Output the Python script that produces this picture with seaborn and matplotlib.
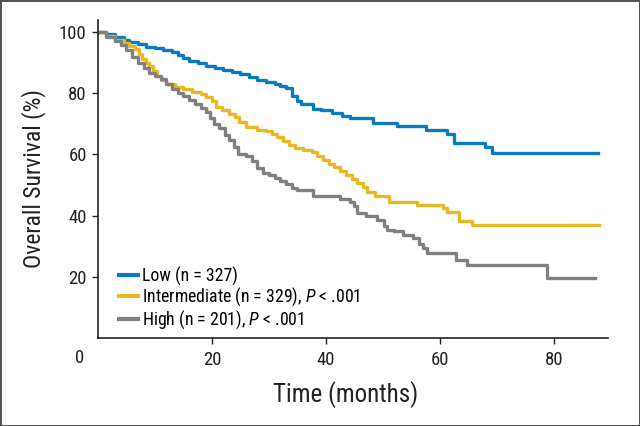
import numpy as np
import pandas as pd
from matplotlib import pyplot as plt
from matplotlib import font_manager
import seaborn as sb

'''
Kaplan-Meier overall survival by risk group
'''

# step points (time in months, survival in %)
low_time = [0, 1.5, 3, 4.5, 5.5, 7, 8.5, 10, 11.5, 13, 14, 15, 16, 17.5, 19, 20.5, 22, 23.5, 25, 26.5,
            28, 29.5, 31, 32, 33, 34, 35, 35.6, 37.7, 39.2, 41, 42.8, 44.2, 48.2, 52.4, 57.5, 61.2, 62.5,
            67.9, 69.1, 87.7]
low_surv = [100, 99.3, 98.3, 97.5, 96.7, 96, 95.2, 94.8, 94.2, 93.5, 92.6, 91.6, 90.6, 90, 89, 88.2, 87.8, 86.9, 86.2, 85.3,
            84.4, 83.8, 83.1, 82.5, 81.6, 79.2, 77.5, 76.5, 74.9, 74.4, 73.5, 72.7, 71.9, 70.2, 69.2, 67.9, 66.8, 63.8,
            62.5, 60.6, 60.6]

int_time = [0, 1.5, 3, 4.5, 5.5, 6.5, 7.2, 7.8, 8.4, 9, 9.6, 10.3, 11, 12, 13.5, 15, 16.5, 18, 19, 20,
            20.8, 21.8, 23, 24, 24.8, 26, 28, 29.5, 30.5, 31.5, 32.5, 33.5, 34.5, 36, 37.5, 38.5, 39.5, 40.5, 41.5, 42.5,
            43.5, 44.5, 45.5, 46.5, 47.3, 48.6, 51, 55.9, 60.5, 61.2, 63.3, 65.6, 88]
int_surv = [100, 98.8, 97.6, 96.6, 95.6, 94.5, 92.8, 91.3, 90, 88.8, 87.3, 85.8, 84.4, 83, 82, 81.4, 80.6, 79.8, 78.8, 77.5,
            75.6, 74.4, 73.2, 72.2, 70.5, 69, 68, 67.6, 66.8, 65.6, 64.4, 63, 62.2, 61.5, 60.8, 59.5, 58.2, 57, 55.8, 54.5,
            53.2, 52, 50.6, 49.4, 47.6, 46.3, 44.4, 43.6, 42.5, 41.1, 38.2, 36.9, 36.9]

high_time = [0, 1.5, 3, 4, 5, 6, 7, 8, 9, 10, 11, 12, 13, 14, 15, 16, 17, 18, 19, 19.6,
             20.3, 21.3, 22.3, 23, 23.8, 24.5, 26, 27, 28, 29, 30, 31, 32, 33, 34, 35, 37.8, 42.5, 44.2, 45,
             45.5, 47, 49, 50.2, 50.8, 52, 53.5, 55.3, 56.3, 57, 57.7, 62.9, 64.7, 78.8, 87.2]
high_surv = [100, 98.6, 97.2, 95.8, 94.2, 92, 90, 88.2, 86.8, 85.6, 84.7, 83, 81.5, 80, 79, 77.8, 76.5, 75.3, 74, 72,
             70, 68.6, 66.5, 64.8, 62.5, 60, 59.4, 57.8, 55.6, 54, 53.3, 52.4, 51.4, 50.2, 49, 48.4, 46.3, 45.5, 44.6, 43.2,
             40.9, 39.8, 38.7, 36.5, 35.4, 34.9, 33.8, 32.8, 30.6, 29.3, 27.7, 25.5, 23.8, 19.5, 19.5]

groups = ['Low', 'Intermediate', 'High']
labels = ['Low (n = 327)',
          r'Intermediate (n = 329), $P$ < .001',
          r'High (n = 201), $P$ < .001']
colors = ['#0a7bc2', '#e8b923', '#808080']


def pick_font():
    names = set(f.name for f in font_manager.fontManager.ttflist)
    for name in ['Liberation Sans Narrow', 'Roboto Condensed', 'Liberation Sans']:
        if name in names:
            return name
    return 'DejaVu Sans'


def km_plot(df, font):
    fig = plt.figure(figsize=(6.4, 4.26), dpi=100)
    ax = fig.add_axes([0.153, 0.207, 0.797, 0.746])
    sb.lineplot(data=df, ax=ax, x='time', y='surv', hue='label', palette=colors,
                estimator=None, drawstyle='steps-post', linewidth=2.4)

    ax.set_xlim(0, 89.5)
    ax.set_ylim(0, 104)
    ax.set_xticks([20, 40, 60, 80])
    ax.set_yticks([20, 40, 60, 80, 100])
    ax.tick_params(axis='both', labelsize=13.5, length=4.5, width=1, color='#222222', labelcolor='#222222')
    ax.tick_params(axis='x', pad=5)
    for side in ['top', 'right']:
        ax.spines[side].set_visible(False)
    for side in ['left', 'bottom']:
        ax.spines[side].set_linewidth(1.2)
        ax.spines[side].set_color('#222222')

    # shared origin label under the corner
    ax.annotate('0', xy=(0, 0), xycoords='axes fraction', xytext=(-13, -14.5),
                textcoords='offset points', ha='center', va='center', fontsize=13.5, color='#222222')

    ax.set_xlabel('Time (months)', fontsize=18, color='#222222')
    ax.set_ylabel('Overall Survival (%)', fontsize=17, color='#222222')
    ax.xaxis.set_label_coords(0.485, -0.135)
    ax.yaxis.set_label_coords(-0.102, 0.5)

    leg = ax.legend(loc='lower left', bbox_to_anchor=(0.01, -0.03), frameon=False,
                    fontsize=12.8, handlelength=1.05, handletextpad=0.25, labelspacing=0.02)
    for line in leg.get_lines():
        line.set_linewidth(3)

    fig.patch.set_edgecolor('#555555')
    fig.patch.set_linewidth(2)
    fig.savefig('out.png', dpi=100, edgecolor=fig.get_edgecolor())
    return fig, ax


if __name__ == "__main__":
    font = pick_font()
    plt.rcParams['font.family'] = [font, 'DejaVu Sans']
    plt.rcParams['mathtext.fontset'] = 'custom'
    plt.rcParams['mathtext.it'] = font + ':italic'
    plt.rcParams['mathtext.rm'] = font

    frames = []
    for lab, t, s in zip(labels, [low_time, int_time, high_time], [low_surv, int_surv, high_surv]):
        frames.append(pd.DataFrame({'time': t, 'surv': s, 'label': lab}))
    df = pd.concat(frames, ignore_index=True)

    km_plot(df, font)
